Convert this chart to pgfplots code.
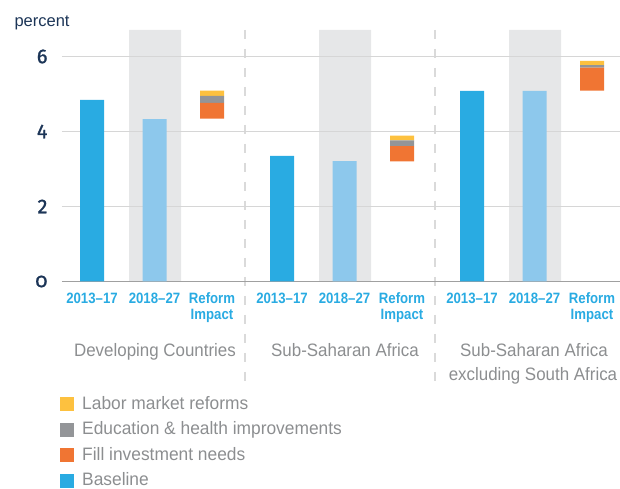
\documentclass[border=0pt]{standalone}
\usepackage{fontspec}
\setmainfont{Liberation Sans}
\newfontfamily\tickfont[FakeStretch=0.88]{Liberation Sans}
\newfontfamily\labfont[FakeStretch=0.94]{Liberation Sans}
\newfontfamily\legfont[FakeStretch=0.965]{Liberation Sans}
\newfontfamily\numfont[FakeBold=1.2]{Fira Sans}
\newfontfamily\onumfont[Numbers=OldStyle, FakeBold=1.2]{Fira Sans}
\usepackage{pgfplots}
\pgfplotsset{compat=1.18}

\definecolor{cblue}{HTML}{29ABE2}
\definecolor{clight}{HTML}{8DC8EC}
\definecolor{corange}{HTML}{F07533}
\definecolor{cgray}{HTML}{939598}
\definecolor{cyellow}{HTML}{FDC13F}
\definecolor{band}{HTML}{E6E7E8}
\definecolor{navy}{HTML}{1C3557}
\definecolor{txtgray}{HTML}{8C8E90}
\definecolor{gridc}{HTML}{D6D6D6}
\definecolor{axisc}{HTML}{A0A0A0}
\definecolor{sepc}{HTML}{DADADA}

\begin{document}
\begin{tikzpicture}
\useasboundingbox (-62pt,-207.5pt) rectangle (558pt,281.5pt);

% background: shaded columns, separators, texts, legend
\begin{axis}[
  scale only axis, width=558pt, height=253.125pt,
  xmin=0, xmax=558, ymin=0, ymax=6.75,
  hide axis, clip=false,
  legend image code/.code={\fill[#1, draw=none] (0pt,-6.5pt) rectangle (14pt,7.5pt);},
  legend cell align=left,
  legend style={at={(axis description cs:-0.0036,-0.4526)}, anchor=north west,
    draw=none, fill=none, inner sep=0pt, row sep=8.5pt,
    font=\legfont\fontsize{18}{20}\selectfont, text=txtgray,
    nodes={inner sep=0pt, text height=13pt, text depth=4pt},
    /tikz/every odd column/.style={column sep=8pt}},
]
\addplot[ybar, bar width=52, bar shift=0pt, fill=band, draw=none, forget plot]
  coordinates {(93,6.71) (283,6.71) (473,6.71)};
\addplot[sepc, line width=1.8pt, dash pattern=on 9pt off 10pt, forget plot]
  coordinates {(183,6.71) (183,-2.71)};
\addplot[sepc, line width=1.8pt, dash pattern=on 9pt off 10pt, forget plot]
  coordinates {(373,6.71) (373,-2.71)};

\node[anchor=base west, font=\fontsize{16.5}{18}\selectfont, text=navy]
  at (axis cs:-51,6.813) {percent};
\node[anchor=base, font=\labfont\fontsize{18}{20}\selectfont, text=txtgray]
  at (axis cs:93,-2.013) {Developing Countries};
\node[anchor=base, font=\labfont\fontsize{18}{20}\selectfont, text=txtgray]
  at (axis cs:283,-2.013) {Sub-Saharan Africa};
\node[anchor=base, font=\labfont\fontsize{18}{20}\selectfont, text=txtgray]
  at (axis cs:472,-2.013) {Sub-Saharan Africa};
\node[anchor=base, font=\labfont\fontsize{18}{20}\selectfont, text=txtgray]
  at (axis cs:471,-2.627) {excluding South Africa};

\addlegendimage{fill=cyellow}
\addlegendentry{Labor market reforms}
\addlegendimage{fill=cgray}
\addlegendentry{Education \& health improvements}
\addlegendimage{fill=corange}
\addlegendentry{Fill investment needs}
\addlegendimage{fill=cblue}
\addlegendentry{Baseline}
\end{axis}

% bars
\begin{axis}[
  scale only axis, width=558pt, height=253.125pt,
  xmin=0, xmax=558, ymin=0, ymax=6.75,
  ybar stacked, bar width=24,
  axis x line*=bottom, axis y line*=left,
  x axis line style={draw=axisc, line width=1.5pt},
  y axis line style={draw=none},
  major tick length=0pt,
  ytick={0,2,4,6},
  yticklabels={{\onumfont 0},2,4,6},
  ymajorgrids, grid style={draw=gridc, line width=1.5pt},
  yticklabel style={font=\numfont\fontsize{20}{22}\selectfont, text=navy, xshift=-11pt},
  xtick={30,92.5,150,220,282.5,340,410,472.5,530},
  xticklabels={2013–17,2018–27,{Reform\\Impact},2013–17,2018–27,{Reform\\Impact},2013–17,2018–27,{Reform\\Impact}},
  xticklabel style={font=\tickfont\bfseries\fontsize{15}{15.7}\selectfont, text=cblue, align=center, anchor=north, yshift=-8pt},
  clip=false,
]
% Baseline 2013-17
\addplot[fill=cblue, draw=none] coordinates
  {(30,4.84) (92.5,0) (150,0) (220,3.35) (282.5,0) (340,0) (410,5.08) (472.5,0) (530,0)};
% Baseline 2018-27
\addplot[fill=clight, draw=none] coordinates
  {(30,0) (92.5,4.33) (150,0) (220,0) (282.5,3.21) (340,0) (410,0) (472.5,5.08) (530,0)};
% invisible base of the reform stacks
\addplot[fill=none, draw=none] coordinates
  {(30,0) (92.5,0) (150,4.34) (220,0) (282.5,0) (340,3.20) (410,0) (472.5,0) (530,5.09)};
% Fill investment needs
\addplot[fill=corange, draw=none] coordinates
  {(30,0) (92.5,0) (150,0.42) (220,0) (282.5,0) (340,0.41) (410,0) (472.5,0) (530,0.61)};
% Education & health improvements
\addplot[fill=cgray, draw=none] coordinates
  {(30,0) (92.5,0) (150,0.19) (220,0) (282.5,0) (340,0.15) (410,0) (472.5,0) (530,0.07)};
% Labor market reforms
\addplot[fill=cyellow, draw=none] coordinates
  {(30,0) (92.5,0) (150,0.14) (220,0) (282.5,0) (340,0.13) (410,0) (472.5,0) (530,0.11)};
\end{axis}
\end{tikzpicture}
\end{document}
